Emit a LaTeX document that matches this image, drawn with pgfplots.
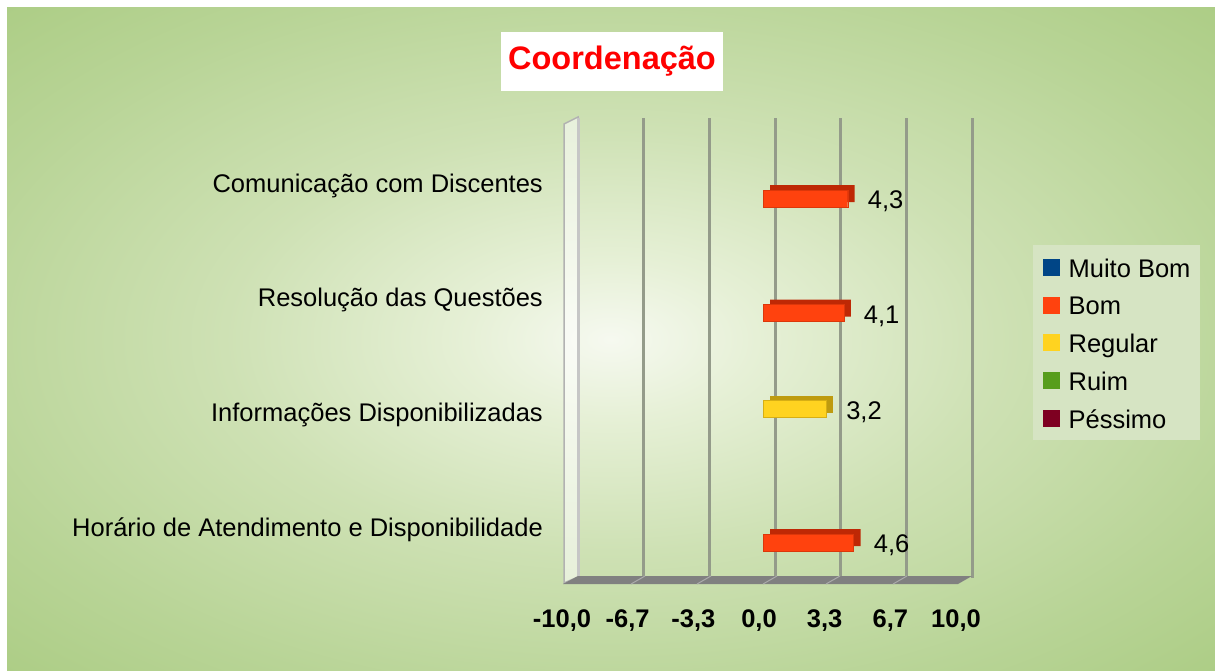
\documentclass[border=0pt]{standalone}
\usepackage{pgfplots}
\pgfplotsset{compat=1.18}
\usepackage{fontspec}
\setmainfont{Liberation Sans}
\definecolor{bom}{RGB}{255,66,14}
\definecolor{bomdark}{RGB}{190,40,5}
\definecolor{bomedge}{RGB}{220,55,10}
\definecolor{regular}{RGB}{255,211,32}
\definecolor{regulardark}{RGB}{190,155,15}
\definecolor{regularedge}{RGB}{215,175,20}
\definecolor{muitobom}{RGB}{0,69,134}
\definecolor{ruim}{RGB}{87,157,28}
\definecolor{pessimo}{RGB}{126,0,33}
\definecolor{gridgray}{RGB}{148,155,138}
\definecolor{legbg}{RGB}{214,228,195}
\definecolor{bgA}{RGB}{246,249,240}
\definecolor{bgB}{RGB}{230,240,214}
\definecolor{bgC}{RGB}{206,225,180}
\definecolor{bgD}{RGB}{184,212,150}
\definecolor{bgE}{RGB}{166,201,124}
\definecolor{bgF}{RGB}{155,194,106}
\definecolor{bgG}{RGB}{142,185,86}
\pgfdeclareradialshading{bgshade}{\pgfpointorigin}{color(0bp)=(bgA); color(6bp)=(bgB); color(16bp)=(bgC); color(28bp)=(bgD); color(40bp)=(bgE); color(50bp)=(bgF); color(71bp)=(bgG)}
\newcommand{\fs}{\fontsize{25.5bp}{30bp}\selectfont}
\begin{document}
\begin{tikzpicture}
\begin{scope}[x=1bp,y=-1bp]
\path[use as bounding box] (0,0) rectangle (1215,671);
\fill[white] (0,0) rectangle (1215,671);
\shade[shading=bgshade] (7,8) rectangle (1215,671);
\end{scope}
\begin{axis}[
  at={(578bp,-578bp)}, anchor=south west,
  scale only axis, width=394bp, height=460bp,
  xmin=-10, xmax=10, ymin=-578, ymax=-118,
  axis line style={draw=none},
  major tick length=0pt,
  tick style={draw=none},
  xtick={-10,-6.6667,-3.3333,0,3.3333,6.6667,10},
  xmajorgrids,
  grid style={draw=gridgray, line width=3bp},
  /pgf/number format/assume math mode=true,
  xticklabel style={font=\bfseries\fs, anchor=base, inner sep=0pt, xshift=-16bp, yshift=-49bp,
    /pgf/number format/.cd, fixed, fixed zerofill, precision=1, use comma},
  ytick={-536,-421,-306,-192},
  yticklabels={Horário de Atendimento e Disponibilidade, Informações Disponibilizadas, Resolução das Questões, Comunicação com Discentes},
  yticklabel style={font=\fs, anchor=base east, inner sep=0pt, xshift=-35bp},
  legend style={at={(1.1548,0.7239)}, anchor=north west, draw=none, fill=legbg,
    inner xsep=10bp, inner ysep=9bp, row sep=11.7bp,
    nodes={font=\fs, inner sep=0pt, text height=23bp, text depth=3bp}},
  legend cell align=left,
  clip=false,
]
% 3D back/side faces
\addplot[xbar, bar shift=0pt, bar width=17bp, fill=bomdark, draw=none, forget plot, xshift=-5bp, yshift=5bp]
  coordinates {(4.3,-198.5) (4.1,-313) (4.6,-542.5)};
\addplot[xbar, bar shift=0pt, bar width=17bp, fill=regulardark, draw=none, forget plot, xshift=-5bp, yshift=5bp]
  coordinates {(3.2,-409)};
% front faces
\addplot[xbar, bar shift=0pt, bar width=17bp, fill=bom, draw=bomedge, forget plot, xshift=-12bp,
  nodes near coords, nodes near coords style={font=\fs, anchor=base west, inner sep=0pt, xshift=20bp, yshift=-10bp,
    /pgf/number format/.cd, fixed, fixed zerofill, precision=1, use comma, assume math mode=true}]
  coordinates {(4.3,-198.5) (4.1,-313) (4.6,-542.5)};
\addplot[xbar, bar shift=0pt, bar width=17bp, fill=regular, draw=regularedge, forget plot, xshift=-12bp,
  nodes near coords, nodes near coords style={font=\fs, anchor=base west, inner sep=0pt, xshift=20bp, yshift=-10bp,
    /pgf/number format/.cd, fixed, fixed zerofill, precision=1, use comma, assume math mode=true}]
  coordinates {(3.2,-409)};
\addlegendimage{legend image code/.code={\fill[muitobom] (0bp,-8bp) rectangle (16bp,8bp); \path (25bp,0bp);}}
\addlegendentry{Muito Bom}
\addlegendimage{legend image code/.code={\fill[bom] (0bp,-8bp) rectangle (16bp,8bp); \path (25bp,0bp);}}
\addlegendentry{Bom}
\addlegendimage{legend image code/.code={\fill[regular] (0bp,-8bp) rectangle (16bp,8bp); \path (25bp,0bp);}}
\addlegendentry{Regular}
\addlegendimage{legend image code/.code={\fill[ruim] (0bp,-8bp) rectangle (16bp,8bp); \path (25bp,0bp);}}
\addlegendentry{Ruim}
\addlegendimage{legend image code/.code={\fill[pessimo] (0bp,-8bp) rectangle (16bp,8bp); \path (25bp,0bp);}}
\addlegendentry{Péssimo}
\end{axis}
\begin{scope}[x=1bp,y=-1bp]
% left wall
\filldraw[fill=white, fill opacity=0.55, draw=gray!60, line width=1.5bp] (564,124) -- (578,117) -- (578,577) -- (564,583) -- cycle;
\draw[draw=gray!45, line width=3bp] (578,118) -- (578,577);
% floor
\fill[gray] (563,584) -- (958,584) -- (972,576) -- (578,576) -- cycle;
\foreach \gx in {645,711,777,840,907} {\draw[gray!65, line width=1bp] (\gx,576) -- (\gx-14,584);}
% title
\node[fill=white, minimum width=222bp, minimum height=59bp, inner sep=0pt, text=red, font=\bfseries\fontsize{32.5bp}{38bp}\selectfont] at (612,61.5) {Coordenação};
\end{scope}
\end{tikzpicture}
\end{document}
